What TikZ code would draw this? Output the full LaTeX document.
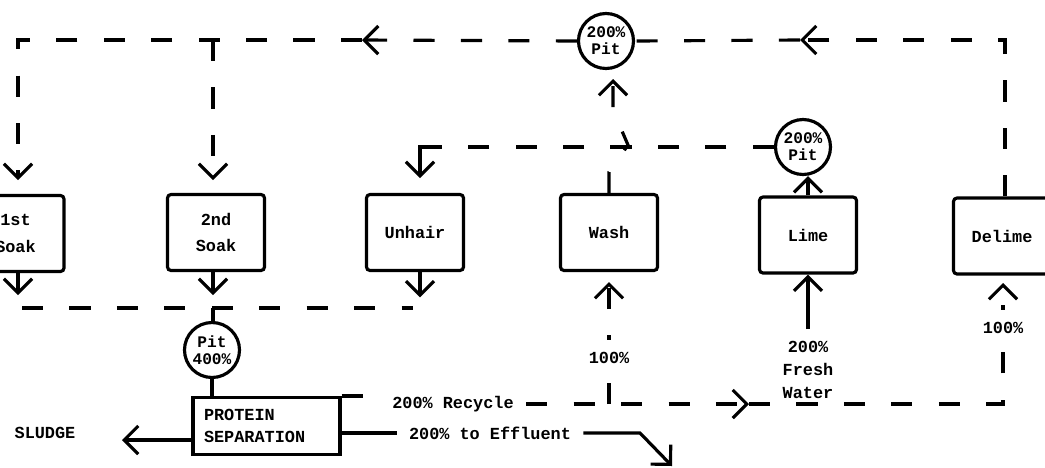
\documentclass[tikz,border=0pt]{standalone}
\usepackage{fontspec}
\setmonofont{Liberation Mono}
\usetikzlibrary{arrows.meta,positioning,calc}

\tikzset{
  lbl/.style={font=\ttfamily\bfseries\fontsize{4.8}{7.5}\selectfont},
  proc/.style={draw,line width=.9pt,rounded corners=1pt,minimum width=.97cm,minimum height=.76cm,inner sep=1pt,align=center,lbl},
  pit/.style={draw,circle,line width=.9pt,minimum size=.55cm,inner sep=0pt,align=center,font=\ttfamily\bfseries\fontsize{4.6}{4.9}\selectfont},
  flow/.style={line width=.9pt},
  recyc/.style={flow,dash pattern=on 6pt off 7.5pt},
}

\begin{document}
\begin{tikzpicture}[>={Straight Barb[length=4pt,width=8pt]}]
    \useasboundingbox (0,0) rectangle (10.45,-4.67);
    \clip (0,0) rectangle (10.45,-4.67);

    \node[proc] (soak1) at (0.155,-2.335) {1st\\Soak};
    \node[proc] (soak2) at (2.16,-2.325) {2nd\\Soak};
    \node[proc] (unhair) at (4.15,-2.325) {Unhair};
    \node[proc] (wash) at (6.09,-2.325) {Wash};
    \node[proc] (lime) at (8.08,-2.35) {Lime};
    \node[proc] (delime) at (10.02,-2.36) {Delime};

    \node[pit] (pit1) at (6.06,-0.41) {200\%\\Pit};
    \node[pit] (pit2) at (8.03,-1.47) {200\%\\Pit};
    \node[pit] (pit3) at (2.12,-3.50) {Pit\\400\%};

    \node[draw,line width=.9pt,lbl,font=\ttfamily\bfseries\fontsize{4.8}{6.3}\selectfont,
      minimum height=.46cm,inner xsep=.11cm,text width=1.25cm,align=left] (prot) at (2.665,-4.26) {PROTEIN\\SEPARATION};

    \node[lbl] (sludge) at (0.45,-4.33) {SLUDGE};
    \node[lbl] (recy) at (4.53,-4.04) {200\% Recycle};
    \node[lbl] (effl) at (4.90,-4.33) {200\% to Effluent};
    \node[lbl,align=center,font=\ttfamily\bfseries\fontsize{4.8}{6.5}\selectfont] (fresh) at (8.08,-3.70) {200\%\\Fresh\\Water};

    \coordinate (tl) at (0.18,-0.40);
    \coordinate (tb) at (2.13,-0.40);
    \coordinate (tr) at (10.05,-0.40);
    \coordinate (c1) at (8.00,-0.40);
    \coordinate (c2) at (3.62,-0.40);
    \coordinate (uh) at (4.20,-1.47);
    \coordinate (bl) at (0.22,-3.08);
    \coordinate (br) at (4.13,-3.08);
    \coordinate (bj) at (2.13,-3.08);
    \coordinate (sl) at (1.22,-4.40);
    \coordinate (ef) at (6.40,-4.33);
    \coordinate (eo) at (6.72,-4.66);
    \coordinate (c3) at (7.49,-4.04);
    \coordinate (rc) at (10.03,-4.04);
    \coordinate (dt) at (10.03,-2.83);
    \coordinate (wi) at (6.09,-4.04);
    \coordinate (wt) at (6.09,-2.82);

    % upper return line
    \draw[recyc,->] (delime.north -| tr) -- (tr) -- (c1);
    \draw[recyc] (c1) -- (pit1.east);
    \draw[recyc,->] (pit1.west) -- (c2);
    \draw[recyc,->] (c2) -- (tl) -- (0.18,-1.80);
    \draw[recyc,->] (tb) -- (2.13,-1.80);
    \draw[recyc,->] (wash.north) -- (6.09,-1.72) -- (6.28,-1.45) -- (6.13,-1.10) -- (6.13,-0.79);

    \draw[recyc] (pit2.west) -- (4.38,-1.47);
    \draw[flow,->] (4.38,-1.47) -- (uh) -- (4.20,-1.78);
    \draw[flow,->] (lime.north) -- (lime.north |- pit2.south);

    % collector below the soaks
    \draw[flow,->,shorten >=3.7pt] (soak1.south -| tl) -- (tl |- bl);
    \draw[flow,->,shorten >=3.7pt] (soak2.south -| bj) -- (bj);
    \draw[flow,->,shorten >=3pt] (unhair.south -| uh) -- (uh |- br);
    \draw[recyc] (bl) -- (br);
    \draw[recyc] (bj) -- (bj |- pit3.north);
    \draw[recyc] (pit3.south) -- (pit3.south |- prot.north);

    \draw[flow,->] (prot.west |- sl) -- (sl);
    \draw[flow] (prot.east |- effl) -- (effl.west);
    \draw[flow,->] (effl.east) -- (ef) -- (eo);

    % recycle
    \draw[recyc] (prot.north east) -- (prot.north east -| recy.west);
    \draw[recyc,->] (recy.east) -- (c3);
    \draw[recyc,->] (c3) -- (rc) -- node[lbl,fill=white,pos=.63]{100\%} (dt);
    \draw[recyc,->] (wi) -- node[lbl,fill=white,pos=.38]{100\%} (wt);
    \draw[flow,->] (fresh.north) -- (lime.south);
\end{tikzpicture}
\end{document}
